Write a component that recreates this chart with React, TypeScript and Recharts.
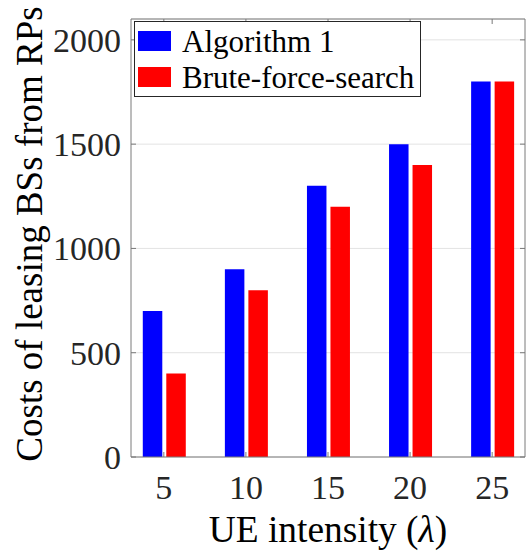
import React from 'react';
import {
  BarChart,
  Bar,
  XAxis,
  YAxis,
  CartesianGrid,
  Legend,
  ReferenceLine,
} from 'recharts';

// UE intensity on the x axis, leasing cost per method
const intensities = [5, 10, 15, 20, 25];
const algorithm1Costs = [700, 900, 1300, 1500, 1800];
const bruteForceCosts = [400, 800, 1200, 1400, 1800];
const yTicks = [0, 500, 1000, 1500, 2000];
const xDomain: [number, number] = [3, 27];
const yDomain: [number, number] = [0, 2100];

const rows = intensities.map((x, i) => ({
  x,
  alg: algorithm1Costs[i],
  brute: bruteForceCosts[i],
}));

const W = 526;
const H = 554;
const PLOT_TOP = 19;
const PLOT_RIGHT = 525;
const TICK_LEN = 5;
const FONT = "'Liberation Serif', 'DejaVu Serif', 'Times New Roman', serif";
const INK = '#262626';
const AXIS = '#7a7a7a';

// MATLAB-style inward ticks, mirrored on the top edge
function BottomTick({ x, y, payload }: any) {
  return (
    <g>
      <line x1={x} x2={x} y1={y} y2={y - TICK_LEN} stroke={AXIS} />
      <line x1={x} x2={x} y1={PLOT_TOP} y2={PLOT_TOP + TICK_LEN} stroke={AXIS} />
      <text x={x} y={y + 42} textAnchor="middle" fontSize={34} style={{ fontFamily: FONT }} fill={INK}>
        {payload.value}
      </text>
    </g>
  );
}

// inward ticks on left, mirrored on the right edge
function LeftTick({ x, y, payload }: any) {
  return (
    <g>
      <line x1={x} x2={x + TICK_LEN} y1={y} y2={y} stroke={AXIS} />
      <line x1={PLOT_RIGHT} x2={PLOT_RIGHT - TICK_LEN} y1={y} y2={y} stroke={AXIS} />
      <text x={x - 10} y={y + 12} textAnchor="end" fontSize={34} style={{ fontFamily: FONT }} fill={INK}>
        {payload.value}
      </text>
    </g>
  );
}

function XTitle({ viewBox }: any) {
  const cx = viewBox.x + viewBox.width / 2;
  return (
    <text x={cx} y={542} textAnchor="middle" fontSize={37.4} style={{ fontFamily: FONT }} fill="#000">
      UE intensity (<tspan fontStyle="italic">λ</tspan>)
    </text>
  );
}

function YTitle({ viewBox }: any) {
  const cy = viewBox.y + viewBox.height / 2 - 4;
  return (
    <text
      transform={`translate(42,${cy}) rotate(-90)`}
      textAnchor="middle"
      fontSize={37}
      style={{ fontFamily: FONT }}
      fill="#000"
    >
      Costs of leasing BSs from RPs
    </text>
  );
}

function LegendBox({ payload }: any) {
  const items = payload ?? [];
  return (
    <div
      style={{
        position: 'relative',
        width: 287,
        height: 76,
        boxSizing: 'border-box',
        border: `1px solid ${INK}`,
        background: '#fff',
        fontFamily: FONT,
        fontSize: 31,
        color: '#000',
      }}
    >
      {items.map((entry: any, i: number) => (
        <div key={i}>
          <span
            style={{
              position: 'absolute',
              left: 3,
              top: 9 + i * 36,
              width: 33,
              height: 20,
              background: entry.color,
            }}
          />
          <span
            style={{
              position: 'absolute',
              left: 47,
              top: 19 + i * 36,
              transform: 'translateY(-50%)',
              lineHeight: 1,
              whiteSpace: 'nowrap',
            }}
          >
            {entry.value}
          </span>
        </div>
      ))}
    </div>
  );
}

export default function App() {
  return (
    <div style={{ position: 'absolute', left: 0, top: 0, width: W, height: H, background: '#fff' }}>
      <BarChart
        width={W}
        height={H}
        data={rows}
        margin={{ top: PLOT_TOP, right: W - PLOT_RIGHT, bottom: 0, left: 0 }}
        barGap={4}
      >
        <CartesianGrid vertical={false} stroke="#e3e3e3" />
        <XAxis
          dataKey="x"
          type="number"
          domain={xDomain}
          ticks={intensities}
          height={97}
          tickSize={0}
          tickMargin={0}
          tickLine={false}
          axisLine={{ stroke: AXIS }}
          tick={<BottomTick />}
          label={<XTitle />}
          allowDataOverflow
        />
        <YAxis
          type="number"
          domain={yDomain}
          ticks={yTicks}
          width={131}
          tickSize={0}
          tickMargin={0}
          tickLine={false}
          axisLine={{ stroke: AXIS }}
          tick={<LeftTick />}
          label={<YTitle />}
          allowDataOverflow
        />
        <ReferenceLine y={yDomain[1]} stroke={AXIS} />
        <ReferenceLine x={xDomain[1]} stroke={AXIS} />
        <Legend
          layout="vertical"
          align="center"
          verticalAlign="middle"
          wrapperStyle={{ left: 134, top: 21, width: 'auto' }}
          content={<LegendBox />}
        />
        <Bar dataKey="alg" name="Algorithm 1" fill="#0000ff" barSize={19.5} isAnimationActive={false} />
        <Bar dataKey="brute" name="Brute-force-search" fill="#ff0000" barSize={19.5} isAnimationActive={false} />
      </BarChart>
    </div>
  );
}
